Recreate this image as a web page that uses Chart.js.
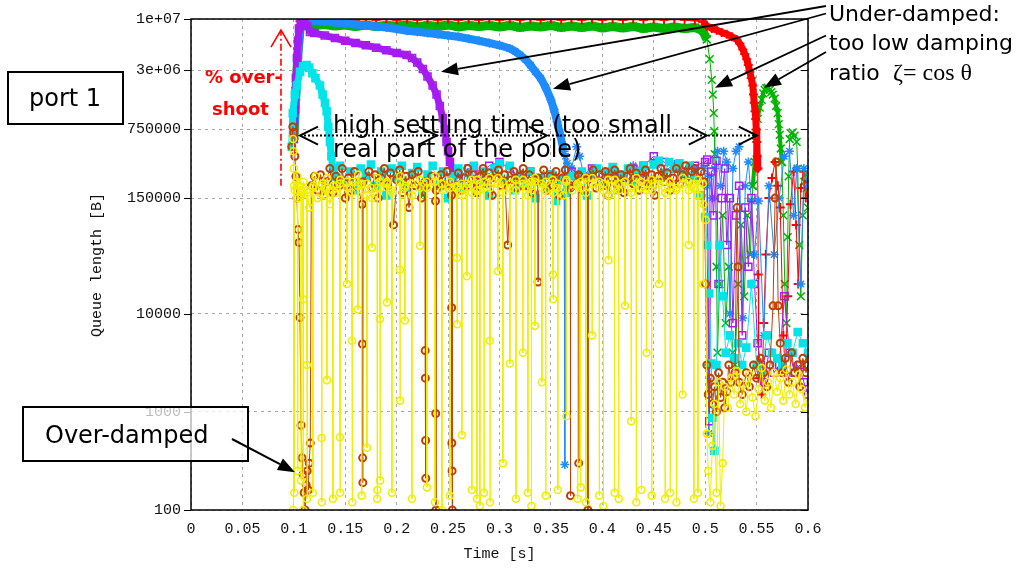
<!DOCTYPE html>
<html>
<head>
<meta charset="utf-8">
<title>Queue length, port 1</title>
<script src="https://cdn.jsdelivr.net/npm/chart.js@4.4.1/dist/chart.umd.min.js"></script>
<style>
  html, body { margin: 0; padding: 0; background: #fff; }
  canvas { display: block; }
</style>
</head>
<body>
<canvas id="queue" width="1026" height="575"></canvas>
<script>
// ---- axis ticks ----
const xTickValues = [0, 0.05, 0.1, 0.15, 0.2, 0.25, 0.3, 0.35, 0.4, 0.45, 0.5, 0.55, 0.6];
const xTickLabels = ['0', '0.05', '0.1', '0.15', '0.2', '0.25', '0.3', '0.35', '0.4', '0.45', '0.5', '0.55', '0.6'];
const yTickValues = [100, 1000, 10000, 150000, 750000, 3000000, 10000000];
const yTickLabels = ['100', '1000', '10000', '150000', '750000', '3e+06', '1e+07'];
const xTitle = 'Time [s]';
const yTitle = 'Queue length [B]';

// ---- series: [time (s), queue length (B)] ----
// green: stays near the buffer limit, falls at 0.5 s, then rings
const greenRamp = [[0.1,6e5],[0.102,1.8e6],[0.104,4.5e6],[0.106,8e6],[0.108,9e6],
  [0.11,8.9e6],[0.12,8.6e6],[0.13,8.8e6],[0.14,8.5e6],[0.15,8.7e6],[0.16,8.4e6],[0.17,8.7e6],[0.18,8.4e6],[0.19,8.6e6],[0.2,8.5e6],
  [0.21,8.7e6],[0.22,8.3e6],[0.23,8.6e6],[0.24,8.4e6],[0.25,8.7e6],[0.26,8.3e6],[0.27,8.6e6],[0.28,8.4e6],[0.29,8.6e6],[0.3,8.3e6],
  [0.31,8.6e6],[0.32,8.2e6],[0.33,8.5e6],[0.34,8.3e6],[0.35,8.6e6],[0.36,8.2e6],[0.37,8.5e6],[0.38,8.2e6],[0.39,8.5e6],[0.4,8.1e6],
  [0.41,8.4e6],[0.42,8.1e6],[0.43,8.4e6],[0.44,8e6],[0.45,8.3e6],[0.46,8e6],[0.47,8.3e6],[0.48,8e6],[0.49,8.2e6],
  [0.4977,7.6e6],[0.5016,6.2e6]];
const greenDrop = [[0.5016,6.2e6],[0.5045,3.9e6],[0.5064,2.4e6],[0.5074,1.7e6],[0.5084,1.1e6],[0.5088,7.2e5],[0.5093,4.2e5],
  [0.5103,1.5e5],[0.511,3e4],[0.512,4000],[0.514,2e4],[0.517,1e5],[0.52,8000],[0.523,3e4],[0.5268,4000],[0.529,3000],
  [0.532,2e4],[0.535,8e4],[0.538,1.5e4],[0.541,1e5],[0.544,4e4],[0.5463,2e5]];
const greenHump = [[0.5463,2e5],[0.5482,3.5e5],[0.5497,6.5e5],[0.5511,9.6e5],[0.553,1.25e6],[0.555,1.5e6],[0.5565,1.75e6],
  [0.5579,1.9e6],[0.5594,1.97e6],[0.5608,2e6],[0.5628,1.9e6],[0.5643,1.8e6],[0.5657,1.7e6],[0.5676,1.55e6],[0.569,1.3e6],
  [0.5706,1.1e6],[0.5716,8.5e5],[0.5725,6.6e5],[0.5735,4.8e5],[0.5745,3.5e5]];
const greenRing = [[0.5745,3.5e5],[0.576,1e5],[0.5774,2e4],[0.579,8000],[0.5803,6e4],[0.5812,2.5e5],[0.5822,6e5],[0.5836,6.8e5],
  [0.5851,7e5],[0.587,6.5e5],[0.589,5.6e5],[0.59,3e5],[0.5915,5e4],[0.593,1.5e4],[0.5949,1e5],[0.5965,2.2e5],[0.5978,2.6e5],
  [0.5988,1.9e5],[0.6,1.2e5]];

// red: pinned at the limit until 0.5 s, slow roll-off to 0.55 s
const redTop = [[0.1,6e5],[0.102,2e6],[0.104,5e6],[0.106,9.5e6],[0.11,9.9e6],
  [0.12,9.8e6],[0.13,1e7],[0.14,9.8e6],[0.15,1e7],[0.16,9.8e6],[0.17,1e7],[0.18,9.8e6],[0.19,1e7],[0.2,9.8e6],
  [0.21,1e7],[0.22,9.8e6],[0.23,1e7],[0.24,9.8e6],[0.25,1e7],[0.26,9.8e6],[0.27,1e7],[0.28,9.8e6],[0.29,1e7],[0.3,9.8e6],
  [0.31,1e7],[0.32,9.8e6],[0.33,1e7],[0.34,9.8e6],[0.35,1e7],[0.36,9.8e6],[0.37,1e7],[0.38,9.8e6],[0.39,1e7],[0.4,9.8e6],
  [0.41,1e7],[0.42,9.8e6],[0.43,1e7],[0.44,9.8e6],[0.45,1e7],[0.46,9.8e6],[0.47,1e7],[0.48,9.8e6],[0.49,9.7e6],[0.4977,9.4e6]];
const redFall = [[0.4977,9.4e6],[0.5016,8.5e6],[0.5064,8e6],[0.5113,7.7e6],[0.5161,7.3e6],[0.521,7e6],[0.526,6.6e6],[0.5307,6.2e6],
  [0.5337,5.6e6],[0.5366,4.9e6],[0.5385,4.4e6],[0.5404,3.9e6],[0.5419,3.4e6],[0.5434,2.9e6],[0.5448,2.5e6],[0.5463,2.1e6],
  [0.547,1.7e6],[0.5477,1.4e6],[0.5485,1.15e6],[0.5492,9.6e5],[0.5497,7.5e5],[0.5502,5.6e5],[0.5506,4e5],[0.5511,3e5]];
const redTail = [[0.5511,3e5],[0.5516,2.5e4],[0.552,2200],[0.5535,3100],[0.555,1500],[0.557,8000],[0.559,4e4],[0.562,1.5e5],
  [0.565,2.4e5],[0.568,3.5e5],[0.5706,2e5],[0.573,1.2e5],[0.576,6000],[0.578,2500],[0.5803,1.5e4],[0.583,1.3e5],[0.586,2.8e5],
  [0.5885,8e4],[0.5905,2e4],[0.593,1.9e5],[0.5955,2.8e5],[0.5978,1.5e5],[0.6,2.2e5]];

// blue: slow decay, settles around 0.36 s
const blueRamp = [[0.1,6e5],[0.102,1.5e6],[0.104,4e6],[0.106,8e6],[0.108,9.8e6],[0.11,9.9e6],[0.12,9.6e6],[0.13,9.4e6],
  [0.14,9.2e6],[0.15,9e6],[0.16,8.8e6],[0.17,8.6e6],[0.18,8.4e6],[0.19,8.2e6],[0.2,7.9e6],[0.21,7.6e6],[0.22,7.4e6],[0.23,7.2e6],
  [0.24,7e6],[0.25,6.8e6],[0.26,6.6e6],[0.27,6.3e6],[0.28,6e6],[0.29,5.7e6],[0.3,5.4e6],[0.31,5e6],[0.315,4.7e6],[0.32,4.3e6],
  [0.325,3.9e6],[0.33,3.4e6],[0.335,2.9e6],[0.34,2.5e6],[0.345,2e6],[0.35,1.5e6],[0.353,1.2e6],[0.356,9e5],[0.359,6.6e5],[0.362,4.8e5]];
const blueTail = [[0.362,4.8e5],[0.3628,4.5e5],[0.3635,290],[0.3642,4e5],[0.366,3.4e5],[0.37,3e5],[0.375,5e5],[0.378,4e5],
  [0.382,2.5e5],[0.39,2.8e5],[0.4,2.2e5],[0.41,3e5],[0.42,2.5e5],[0.43,3.2e5],[0.44,2.6e5],[0.45,3.5e5],[0.46,2.8e5],[0.47,3.3e5],
  [0.48,2.5e5],[0.49,3e5],[0.4985,3e5],[0.5016,2e5],[0.503,3000],[0.5035,600],[0.504,2.5e5],[0.507,1.5e5],[0.509,3e5],[0.512,4.5e5],
  [0.515,2e5],[0.518,4.5e5],[0.521,3.5e5],[0.524,1e4],[0.527,3e5],[0.53,4.5e5],[0.533,5e5],[0.5366,9000],[0.539,2e5],[0.542,3.5e5],
  [0.545,1.4e5],[0.548,4e4],[0.552,1.4e5],[0.557,6000],[0.562,2e5],[0.567,4e4],[0.572,1.5e5],[0.577,4e5],[0.582,4.5e5],[0.586,1e5],
  [0.589,3e5],[0.593,2e4],[0.596,3e5],[0.6,2e5]];

// purple: decays to the set point at about 0.25 s
const purpleRamp = [[0.1,6e5],[0.101,1.2e6],[0.102,2.5e6],[0.103,4e6],[0.104,6e6],[0.105,8e6],[0.107,9.9e6],[0.11,9.9e6],
  [0.113,8.5e6],[0.1157,7.4e6],[0.12,7.2e6],[0.13,6.8e6],[0.14,6.4e6],[0.15,6e6],[0.16,5.7e6],[0.17,5.4e6],[0.18,5.1e6],
  [0.19,4.8e6],[0.2,4.5e6],[0.2097,4.3e6],[0.215,4e6],[0.22,3.6e6],[0.2255,3.1e6],[0.23,2.6e6],[0.235,2.1e6],[0.2388,1.7e6],
  [0.242,1.3e6],[0.2449,9.8e5],[0.2467,7.5e5],[0.2485,5.6e5],[0.25,4.5e5],[0.2518,3.5e5],[0.255,2.8e5],[0.26,2.4e5]];
const purpleTail = [[0.26,2.4e5],[0.27,3e5],[0.28,2.6e5],[0.29,3.2e5],[0.3,3.5e5],[0.31,3e5],[0.32,2.4e5],[0.33,2.8e5],
  [0.34,2.2e5],[0.35,2.6e5],[0.36,2.3e5],[0.37,2.8e5],[0.38,2.5e5],[0.39,3e5],[0.4,2.6e5],[0.41,2.8e5],[0.42,2.4e5],[0.43,3e5],
  [0.44,3.2e5],[0.45,4e5],[0.46,3.5e5],[0.47,3e5],[0.48,2.8e5],[0.49,3.2e5],[0.5,3.5e5],[0.502,3.7e5],[0.504,800],[0.506,2.8e5],
  [0.508,1e5],[0.511,3.6e5],[0.513,2e4],[0.516,1.5e5],[0.519,3e5],[0.521,5e4],[0.524,1.5e5],[0.527,8000],[0.53,1e5],[0.533,2e5],
  [0.536,6000],[0.539,1.2e5],[0.542,3e4],[0.545,1.5e5],[0.548,2e4],[0.551,5000],[0.554,3000],[0.557,2000],[0.562,4000],
  [0.567,2500],[0.572,3000],[0.577,1.5e4],[0.582,4000],[0.587,2500],[0.592,3000],[0.596,2000],[0.6,1500]];

// cyan: short overshoot peak, settles near 0.14 s
const cyanRamp = [[0.098,5e5],[0.099,1.1e6],[0.101,1.7e6],[0.103,2.1e6],[0.106,2.9e6],[0.109,3.3e6],[0.1124,3.4e6],[0.115,3.2e6],
  [0.118,2.8e6],[0.121,2.5e6],[0.1254,2.1e6],[0.128,1.7e6],[0.1303,1.4e6],[0.1319,1.15e6],[0.1335,8e5],[0.1351,5.6e5],
  [0.1365,4e5],[0.138,3e5],[0.14,2.5e5]];
const cyanTail = [[0.14,2.5e5],[0.145,3.2e5],[0.15,2.2e5],[0.155,2.8e5],[0.16,1.8e5],[0.165,3e5],[0.17,2.5e5],[0.175,3.3e5],
  [0.18,2e5],[0.185,2.8e5],[0.19,1.6e5],[0.195,3e5],[0.2,2.4e5],[0.205,3.2e5],[0.21,1.9e5],[0.215,2.7e5],[0.22,3.1e5],[0.225,1.7e5],
  [0.23,2.6e5],[0.235,3.2e5],[0.24,2e5],[0.245,2.8e5],[0.25,1.5e5],[0.255,2.5e5],[0.26,3e5],[0.265,1.9e5],[0.27,2.7e5],[0.275,3.2e5],
  [0.28,2.1e5],[0.285,2.8e5],[0.29,1.6e5],[0.295,3e5],[0.3,3.4e5],[0.305,2.2e5],[0.31,3.2e5],[0.315,1.8e5],[0.32,2.6e5],[0.325,2e5],
  [0.33,2.8e5],[0.335,1.5e5],[0.34,2.4e5],[0.345,1.9e5],[0.35,2.6e5],[0.355,1.4e5],[0.36,2.3e5],[0.365,1.7e5],[0.37,2.5e5],
  [0.375,2e5],[0.38,2.8e5],[0.385,1.6e5],[0.39,2.6e5],[0.395,3e5],[0.4,2e5],[0.405,2.7e5],[0.41,3.1e5],[0.415,1.8e5],[0.42,2.6e5],
  [0.425,3e5],[0.43,2.2e5],[0.435,2.8e5],[0.44,3.2e5],[0.445,2.1e5],[0.45,3.3e5],[0.455,3.6e5],[0.46,2.6e5],[0.465,3.5e5],
  [0.47,3e5],[0.475,3.4e5],[0.48,2.6e5],[0.485,3.2e5],[0.49,2.5e5],[0.495,1.6e5],[0.5,9.6e4],[0.502,5e4],[0.504,1.6e4],
  [0.506,3100],[0.507,870],[0.509,400],[0.511,3000],[0.514,5e4],[0.517,1.5e4],[0.52,4000],[0.524,6000],[0.528,3500],[0.532,5000],
  [0.536,3000],[0.54,4500],[0.545,2e4],[0.55,3000],[0.555,2500],[0.56,6000],[0.565,4000],[0.57,3500],[0.575,3000],[0.58,5000],
  [0.585,4000],[0.59,6500],[0.595,5000],[0.6,4000]];

// brown: over-damped, hovers at the set point with deep drops
const brownPts = [[0.098,5e5],[0.099,8e5],[0.1,7e5],[0.101,4e5],[0.102,2.5e5],[0.103,1.5e5],[0.104,7.2e4],[0.105,5.3e4],
  [0.106,9100],[0.107,730],[0.108,340],[0.109,230],[0.11,150],[0.111,100],[0.112,180],[0.113,250],[0.114,160],[0.115,300],
  [0.116,480],[0.117,2e5],[0.12,2.5e5],[0.123,1.8e5],[0.126,2.6e5],[0.129,1.6e5],[0.132,2.2e5],[0.135,3e5],[0.138,1.7e5],
  [0.141,2.5e5],[0.144,2e5],[0.147,3e5],[0.15,1.5e5],[0.153,2.4e5],[0.156,1.8e5],[0.159,2.8e5],[0.162,2e5],[0.1665,1.3e5],
  [0.1667,4900],[0.1669,340],[0.1671,190],[0.1673,2.2e5],[0.173,2.8e5],[0.176,1.9e5],[0.179,2.6e5],[0.182,1.5e5],[0.185,2.4e5],
  [0.188,3e5],[0.191,2e5],[0.194,2.7e5],[0.197,8e4],[0.2,2.3e5],[0.203,2.9e5],[0.206,1.7e5],[0.209,2.5e5],[0.212,1.2e5],
  [0.215,2.6e5],[0.218,2e5],[0.221,2.8e5],[0.224,1.5e5],[0.2275,2.2e5],[0.2277,4200],[0.2279,2200],[0.2281,510],[0.2283,210],
  [0.2285,2e5],[0.234,2.5e5],[0.2378,1.4e5],[0.238,960],[0.2382,100],[0.2384,1.8e5],[0.243,2.6e5],[0.246,2e5],[0.249,2.8e5],
  [0.2533,1.6e5],[0.2535,1.15e4],[0.2537,480],[0.2539,250],[0.2541,100],[0.2543,2e5],[0.26,2.7e5],[0.263,1.8e5],[0.266,2.4e5],
  [0.269,3e5],[0.272,2e5],[0.275,2.6e5],[0.278,1.7e5],[0.281,2.5e5],[0.284,3e5],[0.287,2.1e5],[0.29,2.7e5],[0.293,1.6e5],
  [0.296,2.4e5],[0.299,2.9e5],[0.302,2e5],[0.305,2.6e5],[0.308,5e4],[0.311,2.3e5],[0.314,2.8e5],[0.317,1.9e5],[0.32,2.5e5],
  [0.323,3e5],[0.326,2e5],[0.329,2.6e5],[0.332,1.7e5],[0.3373,2.4e5],[0.3375,2.1e4],[0.3377,2.3e5],[0.343,2.9e5],[0.346,1.8e5],
  [0.349,2.5e5],[0.352,2e5],[0.355,2.8e5],[0.358,1.6e5],[0.361,2.4e5],[0.364,2.9e5],[0.3688,1.9e5],[0.369,140],[0.3692,2e5],
  [0.3768,2.6e5],[0.377,300],[0.3772,2.5e5],[0.381,1.8e5],[0.3858,2.3e5],[0.386,100],[0.3862,2.4e5],[0.391,2.9e5],[0.394,1.9e5],
  [0.397,2.6e5],[0.4,2e5],[0.403,2.8e5],[0.406,1.6e5],[0.409,2.4e5],[0.412,2.9e5],[0.415,2e5],[0.418,2.6e5],[0.421,1.7e5],
  [0.424,2.5e5],[0.427,3e5],[0.43,2.1e5],[0.433,2.7e5],[0.436,1.8e5],[0.439,2.4e5],[0.442,2.9e5],[0.445,2e5],[0.448,2.6e5],
  [0.451,1.6e5],[0.454,2.5e5],[0.457,3e5],[0.46,2.2e5],[0.463,2.7e5],[0.466,1.8e5],[0.469,2.4e5],[0.472,3e5],[0.475,2.1e5],
  [0.478,2.6e5],[0.481,3.2e5],[0.484,2.2e5],[0.487,2.8e5],[0.49,3e5],[0.493,2.3e5],[0.496,2.8e5],[0.499,2.2e5],[0.5005,2e4],
  [0.5016,3000],[0.503,1500],[0.505,2200],[0.507,1200],[0.509,1800],[0.511,1000],[0.513,2500],[0.515,1400],[0.517,2000],
  [0.519,1100],[0.521,1600],[0.523,3000],[0.525,2000],[0.529,2500],[0.531,1.2e5],[0.532,3e4],[0.533,2000],[0.536,1500],
  [0.54,2500],[0.543,1800],[0.547,3000],[0.55,2200],[0.554,3500],[0.557,2500],[0.56,1800],[0.563,3000],[0.566,1.2e4],
  [0.568,1.5e5],[0.569,3.5e5],[0.571,1.2e4],[0.573,5000],[0.575,2500],[0.578,3500],[0.581,2000],[0.584,4000],[0.587,2500],
  [0.59,3000],[0.592,1800],[0.595,3500],[0.598,2500],[0.6,3000]];

// yellow: heavily over-damped, repeatedly drains towards empty
const yellowPts = [[0.0992,100],[0.0993,6e5],[0.0997,4.5e5],[0.1,3e5],[0.1003,2e5],[0.1005,150],[0.1008,1.8e5],[0.1025,2.2e5],
  [0.1035,2.5e5],[0.1037,250],[0.104,1.5e5],[0.1055,2e5],[0.1068,1.8e5],[0.107,200],[0.1072,1.6e5],[0.1086,1.7e5],[0.1088,1.4e4],
  [0.109,100],[0.1093,2.2e5],[0.1125,1.8e5],[0.1127,3000],[0.1129,130],[0.1132,1.7e5],[0.115,1.2e5],[0.1183,1.9e5],[0.1185,150],
  [0.1188,2e5],[0.121,2.5e5],[0.123,1.5e5],[0.1268,2e5],[0.127,540],[0.1272,120],[0.1274,2.1e5],[0.13,1.6e5],[0.132,1.9e5],
  [0.1322,2100],[0.1324,2.4e5],[0.135,1.3e5],[0.1378,1.8e5],[0.138,130],[0.1382,2e5],[0.141,1.7e5],[0.1446,2.1e5],[0.1448,550],
  [0.145,150],[0.1452,2.3e5],[0.1514,2.2e5],[0.1516,2e4],[0.1518,1.9e5],[0.1563,1.7e5],[0.1565,5300],[0.1568,120],[0.157,2.2e5],
  [0.1621,2e5],[0.1623,1.1e4],[0.1625,2.6e5],[0.1658,2.1e5],[0.166,140],[0.1662,1.8e5],[0.1709,1.6e5],[0.1711,430],[0.1713,2.1e5],
  [0.1757,1.9e5],[0.1759,4.7e4],[0.1761,1.5e5],[0.1808,1.9e5],[0.181,130],[0.1812,160],[0.1815,2.4e5],[0.1835,2.2e5],[0.1837,8800],
  [0.1839,200],[0.1842,1.9e5],[0.1903,2.1e5],[0.1905,1.3e4],[0.1907,2.2e5],[0.1952,1.8e5],[0.1954,150],[0.1956,1.7e5],
  [0.2029,2.2e5],[0.2031,2.8e4],[0.2033,1300],[0.2035,2.5e5],[0.2078,1.9e5],[0.208,8500],[0.2082,2e5],[0.2146,2.1e5],[0.2148,130],
  [0.215,1.6e5],[0.2224,1.9e5],[0.2226,4.9e4],[0.2228,2.3e5],[0.2292,2.2e5],[0.2294,170],[0.2296,1.9e5],[0.237,2.2e5],[0.2372,120],
  [0.2374,2.5e5],[0.2438,2.1e5],[0.244,100],[0.2442,1.8e5],[0.2516,1.9e5],[0.2518,140],[0.252,2.2e5],[0.2584,1.9e5],[0.2586,3.7e4],
  [0.2588,7800],[0.259,2e5],[0.2632,2.1e5],[0.2634,580],[0.2636,1.6e5],[0.2681,1.9e5],[0.2683,2.4e4],[0.2685,2.1e5],[0.2729,2.3e5],
  [0.2731,160],[0.2733,1.7e5],[0.2778,1.8e5],[0.278,130],[0.2782,2.3e5],[0.2807,2.1e5],[0.2809,110],[0.2811,1.8e5],[0.2848,1.9e5],
  [0.285,150],[0.2852,2.2e5],[0.2904,2.4e5],[0.2906,5300],[0.2908,120],[0.291,1.9e5],[0.2982,2.1e5],[0.2984,2.7e4],[0.2986,2.4e5],
  [0.3031,2.2e5],[0.3033,300],[0.3035,1.7e5],[0.3099,1.9e5],[0.3101,3100],[0.3103,2.1e5],[0.3158,2.3e5],[0.316,130],[0.3162,1.8e5],
  [0.3225,2.1e5],[0.3227,4000],[0.3229,2.3e5],[0.3274,1.9e5],[0.3276,150],[0.3278,1.6e5],[0.3308,2.2e5],[0.331,110],[0.3312,2e5],
  [0.3342,2.2e5],[0.3344,7500],[0.3346,2.4e5],[0.341,2.1e5],[0.3412,2000],[0.3414,1.9e5],[0.3448,1.8e5],[0.345,140],[0.3452,2.2e5],
  [0.3517,2.3e5],[0.3519,2.5e4],[0.3521,1.4e4],[0.3523,1.7e5],[0.3565,1.9e5],[0.3567,160],[0.3569,2.1e5],[0.362,1.6e5],
  [0.3648,2.2e5],[0.365,900],[0.3652,2.3e5],[0.371,1.8e5],[0.3758,2.1e5],[0.376,130],[0.3762,2e5],[0.3788,1.9e5],[0.379,170],
  [0.3792,2.2e5],[0.3838,2.4e5],[0.384,120],[0.3842,1.7e5],[0.3898,2.1e5],[0.39,6000],[0.3902,2.4e5],[0.3968,2.2e5],[0.397,140],
  [0.3972,1.9e5],[0.4008,1.8e5],[0.401,110],[0.4012,2.1e5],[0.4058,2.3e5],[0.406,3.5e4],[0.4062,1.6e5],[0.4118,1.9e5],[0.412,150],
  [0.4122,2.3e5],[0.4158,2.1e5],[0.416,130],[0.4162,1.8e5],[0.4218,2.2e5],[0.422,1.2e4],[0.4222,2.2e5],[0.4278,1.9e5],[0.428,800],
  [0.4282,1.7e5],[0.4328,2.1e5],[0.433,120],[0.4332,2.4e5],[0.4378,2.2e5],[0.438,160],[0.4382,1.9e5],[0.4428,1.8e5],[0.443,4000],
  [0.4432,2.1e5],[0.4478,2.3e5],[0.448,140],[0.4482,1.8e5],[0.4548,2.1e5],[0.455,2e4],[0.4552,2.3e5],[0.4608,1.9e5],[0.461,130],
  [0.4612,1.7e5],[0.4658,2.2e5],[0.466,150],[0.4662,2.2e5],[0.4718,1.8e5],[0.472,120],[0.4722,1.9e5],[0.4778,2.1e5],[0.478,1500],
  [0.4782,2.4e5],[0.4838,2.2e5],[0.484,5e4],[0.4842,1.8e5],[0.4888,1.9e5],[0.489,130],[0.4892,2.1e5],[0.4928,2.3e5],[0.493,150],
  [0.4932,1.6e5],[0.4978,2.1e5],[0.498,2e4],[0.4982,1.3e5],[0.5005,9e4],[0.5016,600],[0.503,250],[0.505,120],[0.507,450],
  [0.509,1200],[0.511,150],[0.513,2000],[0.515,110],[0.517,300],[0.519,1800],[0.522,1100],[0.525,2200],[0.528,1500],[0.531,2600],
  [0.534,1200],[0.537,1900],[0.54,1000],[0.543,2400],[0.546,1400],[0.549,900],[0.552,1700],[0.555,2800],[0.558,1300],[0.561,2000],
  [0.564,1100],[0.567,2500],[0.57,1600],[0.573,2200],[0.576,1300],[0.579,2700],[0.582,1500],[0.585,2000],[0.588,1200],[0.591,2400],
  [0.594,1700],[0.597,1100],[0.6,1400]];

// ---- styling ----
const COL = {
  green: '#00b400', red: '#ff0000', blue: '#1e8cff', purple: '#a41cf0',
  cyan: '#00e4ea', brown: '#c04000', yellow: '#f0ee00'
};
const tickFont = { family: '"Liberation Mono", "DejaVu Sans Mono", monospace', size: 15 };
const noteFont = '"DejaVu Sans", "Noto Sans", sans-serif';

function series(points, color, style, radius, lineWidth, filled, markWidth) {
  return {
    data: points.map(([t, q]) => ({ x: t, y: q })),
    borderColor: color,
    backgroundColor: color,
    borderWidth: lineWidth,
    borderJoinStyle: 'round',
    pointStyle: style,
    pointRadius: radius,
    pointHoverRadius: radius,
    pointBorderColor: color,
    pointBackgroundColor: filled ? color : 'rgba(0,0,0,0)',
    pointBorderWidth: markWidth || 1.5,
    tension: 0,
    fill: false,
    clip: 0
  };
}

// first entry is painted last (on top)
const datasets = [
  series(yellowPts, COL.yellow, 'circle', 3.5, 1, false, 1.6),
  series(brownPts, COL.brown, 'circle', 3.5, 1, false, 2),
  series(cyanTail, COL.cyan, 'rect', 5, 1, true),
  series(cyanRamp, COL.cyan, 'rect', 5, 7, true),
  series(purpleTail, COL.purple, 'rect', 5, 1, false),
  series(purpleRamp, COL.purple, 'rect', 5, 7, false),
  series(blueTail, COL.blue, 'star', 4.5, 1, false),
  series(blueRamp, COL.blue, 'star', 4.5, 8, false),
  series(redTail, COL.red, 'cross', 4.5, 1, false, 2),
  series(redFall, COL.red, 'cross', 4.5, 7, false, 2),
  series(redTop, COL.red, 'cross', 4.5, 2, false, 2),
  series(greenRing, COL.green, 'crossRot', 5.5, 1, false),
  series(greenHump, COL.green, 'crossRot', 5.5, 4, false),
  series(greenDrop, COL.green, 'crossRot', 5.5, 1, false),
  series(greenRamp, COL.green, 'crossRot', 5.5, 9, false)
];

// plot frame, edge tick marks and axis titles
const frame = {
  id: 'frame',
  afterDatasetsDraw(chart) {
    const { ctx, chartArea: a, scales: { y } } = chart;
    ctx.save();
    ctx.strokeStyle = '#000';
    ctx.lineWidth = 1.5;
    ctx.strokeRect(a.left, a.top, a.right - a.left, a.bottom - a.top);
    ctx.lineWidth = 1.2;
    yTickValues.forEach(v => {
      const p = Math.round(y.getPixelForValue(v)) + 0.5;
      ctx.beginPath();
      ctx.moveTo(a.left - 7, p); ctx.lineTo(a.left, p);
      ctx.moveTo(a.right - 7, p); ctx.lineTo(a.right, p);
      ctx.stroke();
    });
    ctx.fillStyle = '#111';
    ctx.font = `${tickFont.size}px ${tickFont.family}`;
    ctx.textAlign = 'center';
    ctx.textBaseline = 'middle';
    ctx.fillText(xTitle, (a.left + a.right) / 2, 554);
    ctx.translate(97, 265);
    ctx.rotate(-Math.PI / 2);
    ctx.fillText(yTitle, 0, 0);
    ctx.restore();
  }
};

function arrow(ctx, x0, y0, x1, y1) {
  const ang = Math.atan2(y1 - y0, x1 - x0), len = 17, half = 6.5;
  const bx = x1 - len * Math.cos(ang), by = y1 - len * Math.sin(ang);
  ctx.beginPath(); ctx.moveTo(x0, y0); ctx.lineTo(bx, by); ctx.stroke();
  ctx.beginPath();
  ctx.moveTo(x1, y1);
  ctx.lineTo(bx + half * Math.sin(ang), by - half * Math.cos(ang));
  ctx.lineTo(bx - half * Math.sin(ang), by + half * Math.cos(ang));
  ctx.closePath(); ctx.fill();
}
function openHead(ctx, x, y, dir) {
  ctx.beginPath();
  ctx.moveTo(x - dir * 18, y - 9); ctx.lineTo(x, y); ctx.lineTo(x - dir * 18, y + 9);
  ctx.stroke();
}
function box(ctx, x0, y0, x1, y1, fill) {
  ctx.fillStyle = fill;
  ctx.fillRect(x0, y0, x1 - x0, y1 - y0);
  ctx.strokeStyle = '#000';
  ctx.lineWidth = 2;
  ctx.strokeRect(x0, y0, x1 - x0, y1 - y0);
}

// explanatory notes drawn over the plot
const notes = {
  id: 'notes',
  afterDraw(chart) {
    const { ctx, scales: { x, y } } = chart;
    const px = t => x.getPixelForValue(t);
    const py = q => y.getPixelForValue(q);
    ctx.save();
    ctx.textAlign = 'left';
    ctx.textBaseline = 'alphabetic';

    // port label
    box(ctx, 8, 72, 123, 124, '#fff');
    ctx.fillStyle = '#000';
    ctx.font = `24px ${noteFont}`;
    ctx.fillText('port 1', 29, 106);

    // over-damped note
    box(ctx, 23, 407, 248, 461, 'rgba(255,255,255,0.72)');
    ctx.fillStyle = '#000';
    ctx.fillText('Over-damped', 45, 443);
    ctx.strokeStyle = '#000'; ctx.lineWidth = 2;
    arrow(ctx, 232, 439, px(0.1011), py(243));

    // under-damped note with four pointers
    ctx.font = `22px ${noteFont}`;
    ctx.fillText('Under-damped:', 829, 21);
    ctx.fillText('too low damping', 829, 50);
    ctx.fillText('ratio', 829, 80);
    ctx.font = '24px "Liberation Serif", "DejaVu Serif", serif';
    ctx.fillText('\u03B6= cos \u03B8', 893, 80);
    ctx.lineWidth = 1.8;
    arrow(ctx, 826, 6, px(0.2431), py(2.9e6));
    arrow(ctx, 826, 13.5, px(0.352), py(1.95e6));
    arrow(ctx, 826, 35.5, px(0.5095), py(2.0e6));
    arrow(ctx, 826, 52, px(0.5572), py(2.0e6));

    // overshoot marker
    const ox = px(0.0875);
    ctx.strokeStyle = '#ff0000'; ctx.fillStyle = '#ff0000';
    ctx.lineWidth = 1.6;
    ctx.setLineDash([7, 3, 2, 3]);
    ctx.beginPath(); ctx.moveTo(ox, py(2.0e5)); ctx.lineTo(ox, py(7.7e6)); ctx.stroke();
    ctx.setLineDash([]);
    ctx.beginPath();
    ctx.moveTo(ox - 10, py(7.7e6) + 17); ctx.lineTo(ox, py(7.7e6)); ctx.lineTo(ox + 10, py(7.7e6) + 17);
    ctx.stroke();
    ctx.font = `bold 18px ${noteFont}`;
    ctx.fillText('% over-', 205, 83);
    ctx.fillText('shoot', 212, 115);

    // settling-time span
    const sy = py(6.5e5);
    ctx.strokeStyle = '#000'; ctx.fillStyle = '#000';
    ctx.lineWidth = 2;
    ctx.setLineDash([2, 2]);
    ctx.beginPath(); ctx.moveTo(px(0.106), sy); ctx.lineTo(px(0.5502), sy); ctx.stroke();
    ctx.setLineDash([]);
    openHead(ctx, px(0.106), sy, -1);
    [0.2391, 0.346, 0.5016, 0.5502].forEach(t => openHead(ctx, px(t), sy, 1));
    ctx.font = `24px ${noteFont}`;
    ctx.fillText('high settling time (too small', 333, 133);
    ctx.fillText('real part of the pole)', 333, 157);
    ctx.restore();
  }
};

const gridStyle = { color: '#a8a8a8', lineWidth: 1, drawTicks: false };

new Chart(document.getElementById('queue'), {
  type: 'line',
  data: { datasets },
  options: {
    responsive: false,
    animation: false,
    devicePixelRatio: 1,
    events: [],
    layout: { padding: { left: 0, top: 17, right: 218, bottom: 0 } },
    plugins: { legend: { display: false }, tooltip: { enabled: false }, title: { display: false } },
    scales: {
      x: {
        type: 'linear', min: 0, max: 0.6,
        afterBuildTicks: s => { s.ticks = xTickValues.map(v => ({ value: v })); },
        afterFit: s => { s.height = 65; },
        ticks: {
          autoSkip: false, maxRotation: 0, padding: 10, color: '#111', font: tickFont,
          callback: v => xTickLabels[xTickValues.indexOf(v)]
        },
        grid: gridStyle,
        border: { display: false, dash: [3, 4] }
      },
      y: {
        type: 'logarithmic', min: 100, max: 1e7,
        afterBuildTicks: s => { s.ticks = yTickValues.map(v => ({ value: v })); },
        afterFit: s => { s.width = 191; },
        ticks: {
          autoSkip: false, padding: 10, color: '#111', font: tickFont,
          callback: v => yTickLabels[yTickValues.indexOf(v)]
        },
        grid: gridStyle,
        border: { display: false, dash: [3, 4] }
      }
    }
  },
  plugins: [frame, notes]
});
</script>
</body>
</html>
